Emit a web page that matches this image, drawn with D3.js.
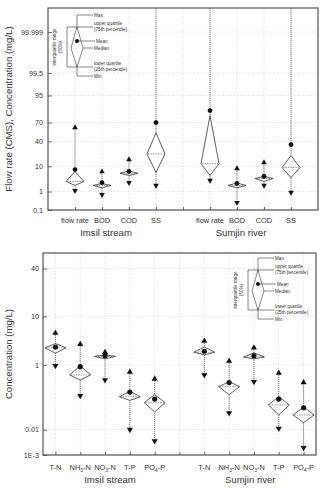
<!DOCTYPE html>
<html>
<head>
<meta charset="utf-8">
<script src="https://cdn.jsdelivr.net/npm/d3@7"></script>
<style>
	body { margin: 0; background: #fff; }
	svg { display: block; font-family: "Liberation Sans", Arial, sans-serif; }
	.grid line { stroke: #c8c8c8; stroke-width: 0.6; stroke-dasharray: 1 1.5; }
	.frame { fill: none; stroke: #444; stroke-width: 1.1; }
	.axis path { display: none; }
	.axis line { stroke: #444; stroke-width: 0.8; }
	.axis text { fill: #333; }
	.whisker { stroke: #444; stroke-width: 0.7; stroke-dasharray: 1.2 0.8; }
	.diamond { fill: #fff; stroke: #333; stroke-width: 0.8; }
	.median { stroke: #555; stroke-width: 0.6; stroke-dasharray: 1.5 1; }
	.legend line, .legend path { stroke: #333; stroke-width: 0.6; fill: none; }
	.legend text { fill: #333; font-size: 4.6px; }
</style>
</head>
<body>
<div id="chart"></div>
<script>
// upper panel: flow rate and organic matter, normal-probability axis
const groups = ['Imsil stream', 'Sumjin river'];
const topCategories = ['flow rate', 'BOD', 'COD', 'SS'];
const topTicks = ['0.1', '1', '10', '40', '70', '95', '99.5', '99.999'];
// order: Imsil (flow rate, BOD, COD, SS), Sumjin (flow rate, BOD, COD, SS)
const topMax    = [62.5, 6.6, 15.8, 99.9999999, 99.9999999, 8.4, 12.9, 99.9999999];
const topQ3     = [6.7, 2.3, 7.0, 54, 79, 2.4, 4.5, 20];
const topMean   = [7.8, 2.5, 6.7, 70, 84.6, 2.3, 4.4, 35];
const topMedian = [2.8, 1.9, 5.8, 22, 12, 1.9, 3.7, 9.1];
const topQ1     = [1.9, 1.5, 4.8, 6.2, 4.8, 1.5, 2.8, 4.0];
const topMin    = [1.1, 0.7, 2.5, 1.9, 3.1, 0.27, 1.9, 0.9];

// lower panel: nutrients
const bottomCategories = ['T-N', 'NH_3-N', 'NO_3-N', 'T-P', 'PO_4-P'];
const bottomTicks = ['1E-3', '0.01', '1', '10', '40'];
const bottomTickValues = [0.001, 0.01, 1, 10, 40];
const bottomMax    = [5.05, 3.0, 2.0, 0.66, 0.43, 3.5, 1.25, 2.5, 0.62, 0.34];
const bottomQ3     = [3.1, 0.95, 1.74, 0.19, 0.15, 2.6, 0.36, 1.92, 0.13, 0.062];
const bottomMean   = [2.6, 0.9, 1.65, 0.18, 0.11, 2.1, 0.34, 1.65, 0.11, 0.058];
const bottomMedian = [2.5, 0.55, 1.6, 0.13, 0.085, 2.0, 0.26, 1.55, 0.072, 0.033];
const bottomQ1     = [1.9, 0.4, 1.4, 0.1, 0.042, 1.74, 0.15, 1.4, 0.033, 0.018];
const bottomMin    = [0.95, 0.14, 0.4, 0.01, 0.0037, 0.55, 0.039, 0.36, 0.011, 0.002];

// inverse normal CDF (Acklam), used for the probability axes
function probit(p) {
	const a = [-3.969683028665376e+01, 2.209460984245205e+02, -2.759285104469687e+02, 1.383577518672690e+02, -3.066479806614716e+01, 2.506628277459239e+00];
	const b = [-5.447609879822406e+01, 1.615858368580409e+02, -1.556989798598866e+02, 6.680131188771972e+01, -1.328068155288572e+01];
	const c = [-7.784894002430293e-03, -3.223964580411365e-01, -2.400758277161838e+00, -2.549671348593694e+00, 4.374664141464968e+00, 2.938163982698783e+00];
	const d = [7.784695709041462e-03, 3.224671290700398e-01, 2.445134137142996e+00, 3.754408661907416e+00];
	const lo = 0.02425;
	const tail = (q)=>(((((c[0]*q+c[1])*q+c[2])*q+c[3])*q+c[4])*q+c[5]) / ((((d[0]*q+d[1])*q+d[2])*q+d[3])*q+1);
	if(p < lo) return tail(Math.sqrt(-2*Math.log(p)));
	if(p > 1 - lo) return -tail(Math.sqrt(-2*Math.log(1-p)));
	const q = p - 0.5, r = q*q;
	return (((((a[0]*r+a[1])*r+a[2])*r+a[3])*r+a[4])*r+a[5])*q / (((((b[0]*r+b[1])*r+b[2])*r+b[3])*r+b[4])*r+1);
}
const z = (v)=>probit(v/100);

const W = 321, H = 488;
const svg = d3.select('#chart').append('svg').attr('width', W).attr('height', H);

function buildBoxes(maxArr, q3Arr, meanArr, medArr, q1Arr, minArr, nCat, gap) {
	return maxArr.map((m, i)=>({
		slot: i < nCat ? i + 1 : i + 1 + gap,
		max: m, q3: q3Arr[i], mean: meanArr[i], median: medArr[i], q1: q1Arr[i], min: minArr[i]
	}));
}

function drawPanel(opt) {
	const g = svg.append('g');
	const x = d3.scaleLinear().domain(opt.xDomain).range([opt.left, opt.right]);
	const y = d3.scaleLinear().domain(opt.zDomain).range([opt.bottom, opt.top]);
	const yv = (v)=>y(z(v));
	const slots = d3.range(1, opt.xDomain[1]);

	// grid
	const grid = g.append('g').attr('class', 'grid');
	grid.selectAll('.vg').data(slots).enter().append('line')
	.attr('x1', (d)=>x(d)).attr('x2', (d)=>x(d)).attr('y1', opt.top).attr('y2', opt.bottom);
	grid.selectAll('.hg').data(opt.tickValues).enter().append('line')
	.attr('x1', opt.left).attr('x2', opt.right).attr('y1', (d)=>yv(d)).attr('y2', (d)=>yv(d));

	// axes (ticks inward)
	g.append('g').attr('class', 'axis')
	.attr('transform', `translate(${opt.left},0)`)
	.call(d3.axisLeft(y).tickValues(opt.tickValues.map(z)).tickFormat((d, i)=>opt.tickLabels[i]).tickSizeInner(-4).tickPadding(opt.tickPad))
	.selectAll('text').attr('font-size', '7.2px');
	g.append('g').attr('class', 'axis')
	.attr('transform', `translate(0,${opt.bottom})`)
	.call(d3.axisBottom(x).tickValues(slots).tickFormat('').tickSizeInner(-3));

	// clip for whiskers that run off the top
	const clipId = 'clip-' + opt.name;
	g.append('clipPath').attr('id', clipId).append('rect')
	.attr('x', opt.left).attr('y', opt.top).attr('width', opt.right - opt.left).attr('height', opt.bottom - opt.top);

	const marks = g.append('g').attr('clip-path', `url(#${clipId})`);
	const box = marks.selectAll('.box').data(opt.boxes).enter().append('g').attr('class', 'box');
	const hw = opt.halfWidth;

	box.append('line').attr('class', 'whisker')
	.attr('x1', (d)=>x(d.slot)).attr('x2', (d)=>x(d.slot))
	.attr('y1', (d)=>yv(d.max)).attr('y2', (d)=>yv(d.min));

	box.append('path').attr('class', 'diamond')
	.attr('d', (d)=>`M${x(d.slot)},${yv(d.q3)}L${x(d.slot)+hw},${yv(d.median)}L${x(d.slot)},${yv(d.q1)}L${x(d.slot)-hw},${yv(d.median)}Z`);

	box.append('line').attr('class', 'median')
	.attr('x1', (d)=>x(d.slot) - hw + 1).attr('x2', (d)=>x(d.slot) + hw - 1)
	.attr('y1', (d)=>yv(d.median)).attr('y2', (d)=>yv(d.median));

	const tri = d3.symbol().type(d3.symbolTriangle).size(opt.triSize);
	box.append('path').attr('fill', '#111')
	.attr('d', tri)
	.attr('transform', (d)=>`translate(${x(d.slot)},${yv(d.max)})`);
	box.append('path').attr('fill', '#111')
	.attr('d', tri)
	.attr('transform', (d)=>`translate(${x(d.slot)},${yv(d.min)}) rotate(180)`);
	box.append('circle').attr('fill', '#111').attr('r', opt.dotR)
	.attr('cx', (d)=>x(d.slot)).attr('cy', (d)=>yv(d.mean));

	g.append('rect').attr('class', 'frame')
	.attr('x', opt.left).attr('y', opt.top).attr('width', opt.right - opt.left).attr('height', opt.bottom - opt.top);

	// category labels
	const labels = g.selectAll('.cat').data(opt.boxes).enter().append('text')
	.attr('x', (d)=>x(d.slot)).attr('y', opt.catY)
	.attr('text-anchor', 'middle').attr('font-size', '7.4px').attr('fill', '#333');
	labels.each(function(d, i){
		const parts = opt.categories[i % opt.categories.length].split('_');
		const t = d3.select(this);
		t.append('tspan').text(parts[0]);
		if(parts.length > 1) {
			t.append('tspan').attr('font-size', '5px').attr('dy', 1.5).text(parts[1].charAt(0));
			t.append('tspan').attr('dy', -1.5).text(parts[1].slice(1));
		}
	});

	// group labels
	g.selectAll('.grp').data(groups).enter().append('text')
	.attr('x', (d, i)=>x(opt.groupX[i])).attr('y', opt.groupY)
	.attr('text-anchor', 'middle').attr('font-size', '9.6px').attr('fill', '#333')
	.text((d)=>d);

	// y title
	g.append('text')
	.attr('transform', `translate(12,${(opt.top + opt.bottom)/2}) rotate(-90)`)
	.attr('text-anchor', 'middle').attr('font-size', '9.6px').attr('fill', '#333')
	.text(opt.title);

	drawLegend(g, opt.legendX, opt.legendY);
}

function drawLegend(parent, lx, ly) {
	const g = parent.append('g').attr('class', 'legend').attr('transform', `translate(${lx},${ly})`);
	g.append('line').attr('x1', 0).attr('x2', 0).attr('y1', 0).attr('y2', 61);
	g.append('path').attr('d', 'M0,12L6,33L0,52L-6,33Z').attr('fill', '#fff').style('fill', '#fff');
	g.append('line').attr('x1', 0).attr('x2', 16).attr('y1', 0).attr('y2', 0);
	g.append('line').attr('x1', -10).attr('x2', 16).attr('y1', 12).attr('y2', 12);
	g.append('line').attr('x1', -10).attr('x2', 16).attr('y1', 52).attr('y2', 52);
	g.append('line').attr('x1', 0).attr('x2', 16).attr('y1', 61).attr('y2', 61);
	g.append('line').attr('x1', -10).attr('x2', -10).attr('y1', 12).attr('y2', 52);
	g.append('line').attr('x1', 2).attr('x2', 18).attr('y1', 26).attr('y2', 26);
	g.append('line').attr('x1', 6).attr('x2', 16).attr('y1', 33).attr('y2', 33);
	g.append('circle').attr('cx', 0).attr('cy', 26).attr('r', 2).attr('fill', '#111');

	const lab = [
		['Max.', 17, 1.5], ['upper quartile', 17, 10], ['(75th percentile)', 17, 15.5],
		['Mean', 19, 27.5], ['Median', 17, 35], ['lower quartile', 17, 50],
		['(25th percentile)', 17, 55.5], ['Min.', 17, 62.5]
	];
	g.selectAll('.lt').data(lab).enter().append('text')
	.attr('x', (d)=>d[1]).attr('y', (d)=>d[2]).text((d)=>d[0]);

	const rot = g.append('text').attr('transform', 'translate(-20,32) rotate(-90)').attr('text-anchor', 'middle');
	rot.append('tspan').attr('x', 0).attr('dy', -1).text('interquartile range');
	rot.append('tspan').attr('x', 0).attr('dy', 5.5).text('(50%)');
}

drawPanel({
	name: 'top',
	left: 48, right: 318, top: 8, bottom: 210,
	xDomain: [0, 10], zDomain: [z(0.1), 5.26],
	tickValues: topTicks.map(Number), tickLabels: topTicks, tickPad: 5,
	boxes: buildBoxes(topMax, topQ3, topMean, topMedian, topQ1, topMin, 4, 1),
	categories: topCategories,
	halfWidth: 9, triSize: 14, dotR: 2.4,
	catY: 223, groupY: 236, groupX: [2.15, 7.15],
	title: 'Flow rate (CMS), Concentration (mg/L)',
	legendX: 77, legendY: 15
});

drawPanel({
	name: 'bottom',
	left: 43, right: 316, top: 253, bottom: 455,
	xDomain: [0.5, 11.5], zDomain: [z(0.001), 0.08],
	tickValues: bottomTickValues, tickLabels: bottomTicks, tickPad: 4,
	boxes: buildBoxes(bottomMax, bottomQ3, bottomMean, bottomMedian, bottomQ1, bottomMin, 5, 1),
	categories: bottomCategories,
	halfWidth: 10.5, triSize: 16, dotR: 2.6,
	catY: 470, groupY: 483, groupX: [3.2, 8.85],
	title: 'Concentration (mg/L)',
	legendX: 258, legendY: 258
});
</script>
</body>
</html>
